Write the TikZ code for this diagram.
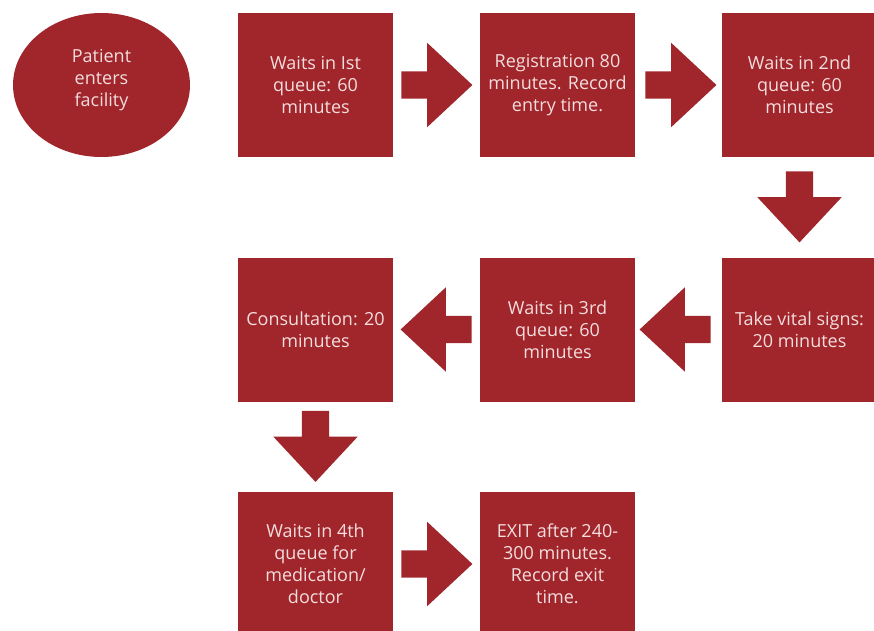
\documentclass[tikz,border=0pt]{standalone}
\usepackage{fontspec}
\setmainfont{Open Sans}
\usetikzlibrary{positioning,calc,shapes.arrows,shapes.geometric}
\definecolor{clinic}{HTML}{A1262B}
\definecolor{clinictxt}{HTML}{F4DDDE}
\tikzset{
  stepbox/.style={rectangle,fill=clinic,text=clinictxt,minimum width=155pt,minimum height=144pt,
    inner sep=2pt,align=center,font=\fontsize{18}{22}\selectfont},
  startnode/.style={ellipse,fill=clinic,text=clinictxt,minimum width=177pt,minimum height=144pt,
    inner sep=0pt,align=center,text depth=15pt,font=\fontsize{18}{22}\selectfont},
  blkarrow/.style={single arrow,fill=clinic,inner sep=13.5pt,
    single arrow head extend=28.5pt,single arrow tip angle=86,minimum height=71pt,anchor=tail},
  rarr/.style={blkarrow,shape border rotate=0},
  larr/.style={blkarrow,shape border rotate=180},
  darr/.style={blkarrow,shape border rotate=270},
}
\begin{document}
\begin{tikzpicture}[x=1pt,y=1pt]
  \useasboundingbox (0,0) rectangle (874,630);
  % first row
  \node[startnode] (enter) at (101.5,545) {Patient\\enters\\facility};
  \node[stepbox] (q1) at (315.5,545) {Waits in Ist\\queue: 60\\minutes};
  \node[stepbox] (reg) at (557.5,545) {Registration 80\\minutes. Record\\entry time.};
  \node[stepbox] (q2) at (799.5,545) {Waits in 2nd\\queue: 60\\minutes};
  % second row (runs right to left)
  \node[stepbox] (vital) at (799.5,300.5) {Take vital signs:\\20 minutes};
  \node[stepbox] (q3) at (557.5,300.5) {Waits in 3rd\\queue: 60\\minutes};
  \node[stepbox] (cons) at (315.5,300.5) {Consultation: 20\\minutes};
  % third row
  \node[stepbox] (q4) at (315.5,66) {Waits in 4th\\queue for\\medication/\\doctor};
  \node[stepbox] (exit) at (557.5,66) {EXIT after 240-\\300 minutes.\\Record exit\\time.};
  % block arrows in the gaps
  \node[rarr] (a1) at ([xshift=8pt]q1.east) {};
  \node[rarr] (a2) at ([xshift=10pt]reg.east) {};
  \node[darr] (a3) at ([yshift=-14pt]q2.south) {};
  \node[larr] (a4) at ([xshift=-11pt]vital.west) {};
  \node[larr] (a5) at ([xshift=-8pt]q3.west) {};
  \node[darr] (a6) at ([yshift=-9pt]cons.south) {};
  \node[rarr] (a7) at ([xshift=8pt]q4.east) {};
\end{tikzpicture}
\end{document}
